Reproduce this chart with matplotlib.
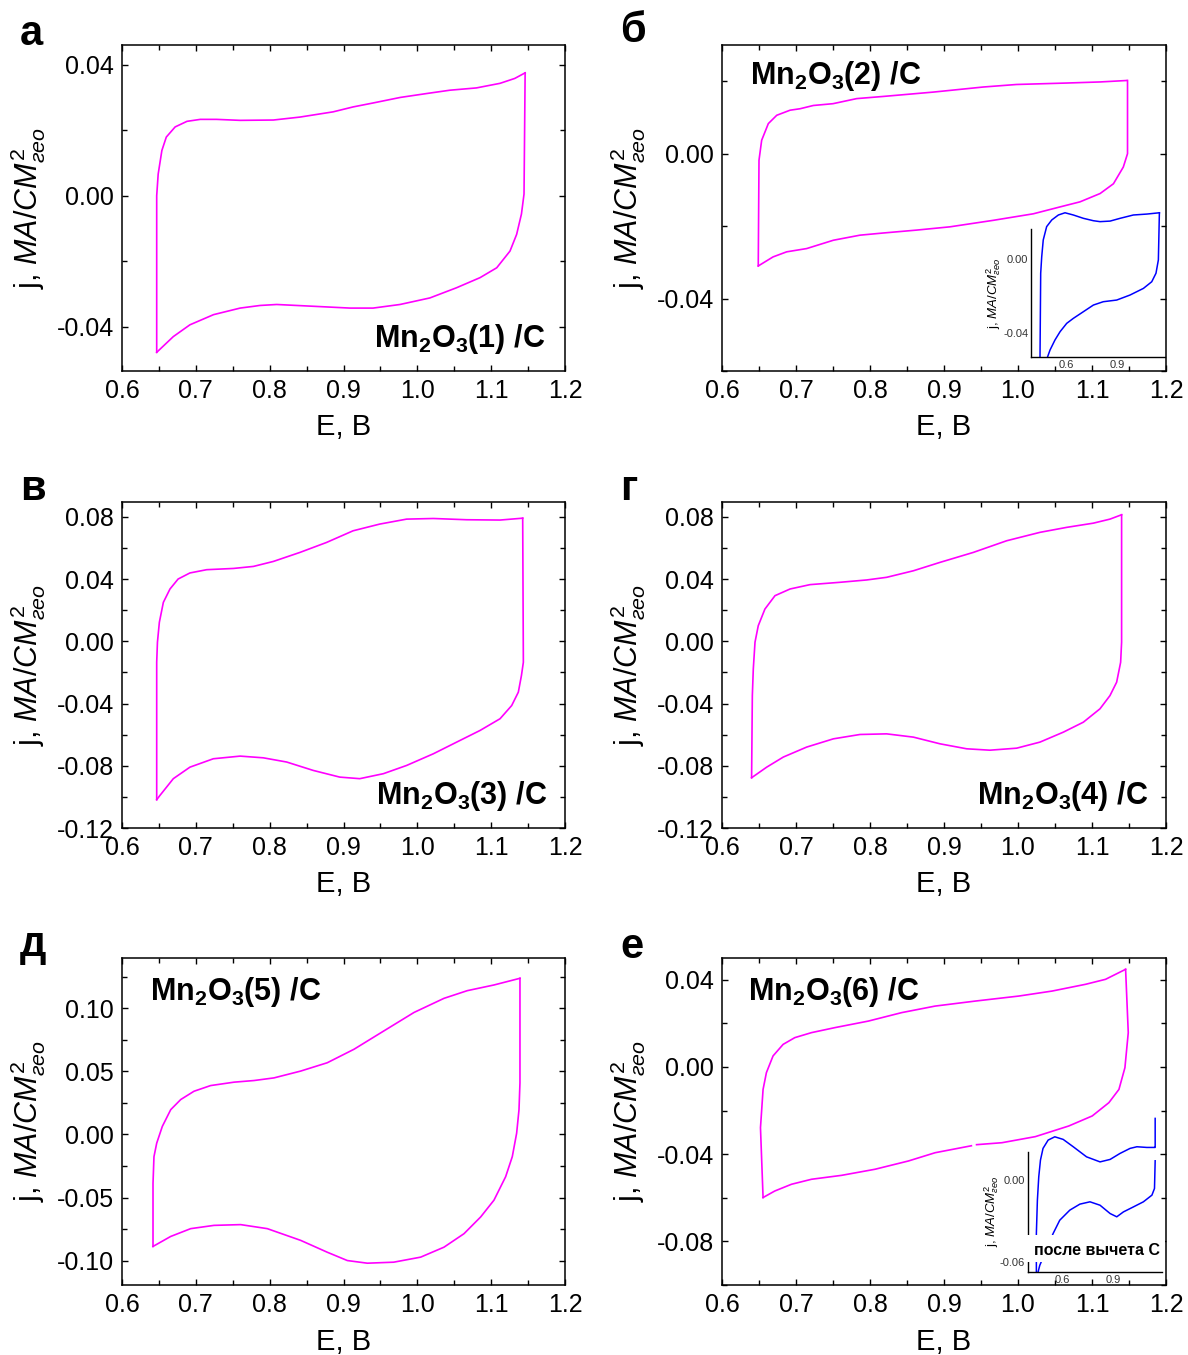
import numpy as np
import matplotlib
matplotlib.use('Agg')
import matplotlib.pyplot as plt
from matplotlib.ticker import MultipleLocator, FormatStrFormatter

plt.rcParams['font.family'] = ['Liberation Sans', 'DejaVu Sans']
plt.rcParams['mathtext.fontset'] = 'custom'
plt.rcParams['mathtext.rm'] = 'Liberation Sans'
plt.rcParams['mathtext.it'] = 'Liberation Sans:italic'
plt.rcParams['mathtext.bf'] = 'Liberation Sans:bold'

# --- data (E in V, j in mA/cm2) ---
# panel a : Mn2O3(1)/C
a_E_up = [0.647, 0.647, 0.649, 0.654, 0.660, 0.672, 0.688, 0.706, 0.728, 0.760, 0.805, 0.841, 0.886, 0.913, 0.940, 0.977, 1.013, 1.044, 1.080, 1.112, 1.132, 1.146]
a_j_up = [-0.0478, 0.0, 0.0066, 0.0138, 0.0179, 0.021, 0.0227, 0.0233, 0.0233, 0.023, 0.0231, 0.024, 0.0256, 0.0271, 0.0283, 0.030, 0.0312, 0.0322, 0.0329, 0.0343, 0.0358, 0.0375]
a_E_dn = [1.146, 1.1445, 1.141, 1.1345, 1.1255, 1.1075, 1.085, 1.053, 1.017, 0.9765, 0.940, 0.909, 0.864, 0.8095, 0.787, 0.760, 0.724, 0.692, 0.6695, 0.647]
a_j_dn = [0.0375, 0.0005, -0.0056, -0.0118, -0.0169, -0.022, -0.025, -0.0281, -0.0312, -0.0332, -0.0343, -0.0343, -0.0338, -0.0332, -0.0335, -0.0343, -0.0363, -0.0394, -0.043, -0.0478]

# panel b : Mn2O3(2)/C
b_E_up = [0.649, 0.650, 0.6536, 0.6626, 0.674, 0.692, 0.7054, 0.7234, 0.750, 0.782, 0.818, 0.8856, 0.953, 0.998, 1.0658, 1.111, 1.147]
b_j_up = [-0.031, -0.0018, 0.0037, 0.0083, 0.0106, 0.012, 0.0124, 0.0133, 0.0138, 0.0152, 0.0158, 0.017, 0.0184, 0.0191, 0.0195, 0.0198, 0.0202]
b_E_dn = [1.148, 1.148, 1.1423, 1.129, 1.111, 1.0838, 1.0568, 1.0207, 0.9667, 0.908, 0.863, 0.818, 0.7865, 0.7505, 0.7144, 0.6874, 0.669, 0.649]
b_j_dn = [0.0202, 0.0, -0.0037, -0.0083, -0.011, -0.0133, -0.0147, -0.0166, -0.0184, -0.0202, -0.0211, -0.0219, -0.0225, -0.0239, -0.0262, -0.0271, -0.0285, -0.031]
# inset of b (after subtracting C)
bi_E_up = [0.447, 0.451, 0.457, 0.466, 0.486, 0.516, 0.555, 0.594, 0.643, 0.702, 0.761, 0.80, 0.859, 0.918, 0.996, 1.075, 1.149]
bi_j_up = [-0.0528, -0.0077, 0.0012, 0.0103, 0.0175, 0.0211, 0.0238, 0.025, 0.0238, 0.022, 0.0207, 0.0202, 0.0205, 0.022, 0.0238, 0.0243, 0.025]
bi_E_dn = [1.149, 1.143, 1.129, 1.104, 1.055, 0.976, 0.898, 0.819, 0.761, 0.702, 0.643, 0.604, 0.565, 0.535, 0.506, 0.492]
bi_j_dn = [0.025, -0.0005, -0.0077, -0.0123, -0.0159, -0.0195, -0.0222, -0.0231, -0.0249, -0.0285, -0.0321, -0.0348, -0.0393, -0.0438, -0.0492, -0.0528]

# panel c : Mn2O3(3)/C
c_E_up = [0.647, 0.647, 0.648, 0.6506, 0.656, 0.665, 0.676, 0.692, 0.7147, 0.751, 0.778, 0.805, 0.841, 0.877, 0.913, 0.949, 0.9855, 1.0217, 1.0668, 1.112, 1.1427]
c_j_up = [-0.1018, -0.0135, -0.0006, 0.0122, 0.025, 0.0336, 0.040, 0.0439, 0.046, 0.0468, 0.0481, 0.0513, 0.0571, 0.0635, 0.071, 0.0753, 0.0785, 0.0789, 0.0781, 0.0779, 0.0791]
c_E_dn = [1.1427, 1.1436, 1.141, 1.1368, 1.1278, 1.112, 1.085, 1.0533, 1.0217, 0.9855, 0.954, 0.922, 0.895, 0.859, 0.823, 0.7914, 0.760, 0.7237, 0.692, 0.6695, 0.6515, 0.647]
c_j_dn = [0.0791, -0.0135, -0.022, -0.0327, -0.0413, -0.0498, -0.0573, -0.0648, -0.0723, -0.0798, -0.0851, -0.0883, -0.0873, -0.083, -0.0776, -0.0749, -0.0738, -0.0755, -0.0809, -0.0883, -0.099, -0.1018]

# panel d : Mn2O3(4)/C
d_E_up = [0.640, 0.641, 0.6423, 0.6446, 0.649, 0.658, 0.6716, 0.692, 0.719, 0.7595, 0.7955, 0.8225, 0.8586, 0.8946, 0.9396, 0.9847, 1.0297, 1.0658, 1.1018, 1.1243, 1.140]
d_j_up = [-0.0877, -0.0349, -0.0178, -0.0006, 0.010, 0.0207, 0.0293, 0.0336, 0.0364, 0.0379, 0.0394, 0.0411, 0.0453, 0.0507, 0.0571, 0.0646, 0.070, 0.0732, 0.0759, 0.0785, 0.0813]
d_E_dn = [1.140, 1.140, 1.1387, 1.1333, 1.1243, 1.1108, 1.0883, 1.0613, 1.0297, 0.9982, 0.962, 0.9306, 0.8946, 0.8586, 0.8225, 0.7865, 0.7505, 0.7144, 0.6829, 0.6604, 0.640]
d_j_dn = [0.0813, -0.0006, -0.0135, -0.0263, -0.0349, -0.0434, -0.052, -0.0584, -0.0648, -0.0687, -0.070, -0.0691, -0.0659, -0.0616, -0.0595, -0.0599, -0.0627, -0.068, -0.0744, -0.0809, -0.0877]

# panel e : Mn2O3(5)/C
e_E_up = [0.642, 0.642, 0.6433, 0.647, 0.6546, 0.666, 0.6795, 0.6975, 0.720, 0.7517, 0.7788, 0.8059, 0.842, 0.878, 0.9142, 0.9548, 0.9955, 1.0361, 1.0677, 1.1038, 1.139]
e_j_up = [-0.0888, -0.0388, -0.0176, -0.0069, 0.0064, 0.0197, 0.0277, 0.0343, 0.0388, 0.0415, 0.0428, 0.0449, 0.0503, 0.0569, 0.0676, 0.0822, 0.0968, 0.108, 0.1141, 0.1186, 0.1239]
e_E_dn = [1.139, 1.139, 1.1377, 1.1345, 1.1286, 1.1196, 1.1038, 1.0858, 1.0632, 1.0361, 1.0045, 0.968, 0.9323, 0.9052, 0.878, 0.842, 0.7968, 0.7607, 0.7246, 0.693, 0.6659, 0.642]
e_j_dn = [0.1239, 0.041, 0.0197, 0.001, -0.0176, -0.0335, -0.0521, -0.0654, -0.0787, -0.0894, -0.0973, -0.1013, -0.1021, -0.100, -0.0934, -0.084, -0.0747, -0.0715, -0.0721, -0.0747, -0.0809, -0.0888]

# panel f : Mn2O3(6)/C  (nan = small gap in the record)
f_E_up = [0.6555, 0.652, 0.6555, 0.660, 0.669, 0.6826, 0.6984, 0.721, 0.7526, 0.7977, 0.8429, 0.888, 0.9422, 1.0009, 1.046, 1.0912, 1.1183, 1.1454]
f_j_up = [-0.060, -0.0279, -0.0103, -0.0026, 0.0051, 0.0104, 0.0135, 0.0158, 0.0181, 0.0211, 0.025, 0.028, 0.0303, 0.0326, 0.0349, 0.038, 0.0403, 0.0449]
f_E_dn = [1.1454, 1.149, 1.1445, 1.1364, 1.1228, 1.1003, 1.0687, 1.0235, 0.9783, 0.944, np.nan, 0.937, 0.888, 0.8519, 0.8068, 0.7616, 0.721, 0.6939, 0.6713, 0.6555]
f_j_dn = [0.0449, 0.0158, -0.0003, -0.0103, -0.0164, -0.0225, -0.0271, -0.032, -0.0348, -0.0357, np.nan, -0.0362, -0.0394, -0.0432, -0.047, -0.0498, -0.0516, -0.0539, -0.057, -0.060]
# inset of f
fi_E_up = [0.449, 0.449, 0.455, 0.463, 0.473, 0.488, 0.518, 0.557, 0.606, 0.665, 0.743, 0.822, 0.881, 0.939, 0.998, 1.038, 1.096, 1.139, 1.145, 1.145]
fi_j_up = [-0.0674, -0.0392, -0.0147, 0.0024, 0.0147, 0.0233, 0.0294, 0.0318, 0.0299, 0.0245, 0.0171, 0.0134, 0.0152, 0.0196, 0.0233, 0.0245, 0.024, 0.024, 0.024, 0.0453]
fi_E_dn = [1.145, 1.141, 1.126, 1.076, 1.018, 0.959, 0.92, 0.881, 0.822, 0.763, 0.704, 0.645, 0.586, 0.547, 0.498, 0.469, 0.459]
fi_j_dn = [0.0142, -0.0061, -0.011, -0.0159, -0.0196, -0.0233, -0.0269, -0.0245, -0.0184, -0.0159, -0.0176, -0.022, -0.0294, -0.0392, -0.0539, -0.0625, -0.0674]

panel_letters = ['а', 'б', 'в', 'г', 'д', 'е']
sample_names = ['1', '2', '3', '4', '5', '6']

ylab = 'j, $\\mathit{МА/СМ}^{2}_{\\mathit{гео}}$'
MAG = '#ff00ff'
W, H = 1188., 1355.


def px_axes(fig, l, t, r, b):
	return fig.add_axes([l/W, 1-b/H, (r-l)/W, (b-t)/H])


def style_main(ax, ylim, ymaj, ymin):
	ax.set_xlim(0.6, 1.2)
	ax.set_ylim(*ylim)
	ax.xaxis.set_major_locator(MultipleLocator(0.1))
	ax.xaxis.set_minor_locator(MultipleLocator(0.05))
	ax.yaxis.set_major_locator(MultipleLocator(ymaj))
	ax.yaxis.set_minor_locator(MultipleLocator(ymin))
	ax.xaxis.set_major_formatter(FormatStrFormatter('%.1f'))
	ax.yaxis.set_major_formatter(FormatStrFormatter('%.2f'))
	ax.tick_params(which='both', direction='in', top=True, right=True, width=1.0, labelsize=18, pad=6)
	ax.tick_params(which='major', length=4)
	ax.tick_params(which='minor', length=3.5)
	for s in ax.spines.values():
		s.set_linewidth(1.1)
	ax.set_xlabel('E, В', fontsize=21)
	ax.set_ylabel(ylab, fontsize=22)
	ax.xaxis.set_label_coords(0.5, -0.13)
	ax.yaxis.set_label_coords(-0.166, 0.5)


def style_inset(ax, xlim, ylim, ytop, yticks):
	ax.set_xlim(*xlim)
	ax.set_ylim(*ylim)
	ax.patch.set_alpha(0)
	ax.spines['top'].set_visible(False)
	ax.spines['right'].set_visible(False)
	ax.spines['left'].set_bounds(ylim[0], ytop)
	for s in ax.spines.values():
		s.set_linewidth(1.0)
	ax.set_xticks([0.6, 0.9])
	ax.set_yticks(yticks)
	ax.xaxis.set_major_formatter(FormatStrFormatter('%.1f'))
	ax.yaxis.set_major_formatter(FormatStrFormatter('%.2f'))
	ax.tick_params(length=0, labelsize=8, labelcolor='#333333', pad=2)


fig = plt.figure(figsize=(11.88, 13.55), dpi=100)

cols = [(122, 565), (722, 1166)]
rows = [(45, 371), (502, 828), (958, 1285)]

data = [(a_E_up, a_j_up, a_E_dn, a_j_dn), (b_E_up, b_j_up, b_E_dn, b_j_dn),
	(c_E_up, c_j_up, c_E_dn, c_j_dn), (d_E_up, d_j_up, d_E_dn, d_j_dn),
	(e_E_up, e_j_up, e_E_dn, e_j_dn), (f_E_up, f_j_up, f_E_dn, f_j_dn)]
ylims = [(-0.0535, 0.046), (-0.06, 0.03), (-0.12, 0.0895), (-0.12, 0.0895), (-0.1194, 0.14), (-0.1002, 0.0501)]
ymaj = [0.04, 0.04, 0.04, 0.04, 0.05, 0.04]
# name placement: x, y (axes fraction), ha
name_pos = [(0.955, 0.074, 'right'), (0.063, 0.880, 'left'), (0.959, 0.074, 'right'),
	(0.959, 0.074, 'right'), (0.063, 0.872, 'left'), (0.059, 0.872, 'left')]
letter_pos = [(20, 45), (620, 42), (20, 500), (620, 500), (20, 956), (620, 958)]

for i in range(6):
	l, r = cols[i % 2]
	t, b = rows[i // 2]
	ax = px_axes(fig, l, t, r, b)
	Eu, ju, Ed, jd = data[i]
	ax.plot(Eu, ju, color=MAG, lw=1.2)
	ax.plot(Ed, jd, color=MAG, lw=1.2)
	style_main(ax, ylims[i], ymaj[i], ymaj[i]/2)
	nx, ny, ha = name_pos[i]
	ax.text(nx, ny, 'Mn$_\\mathbf{2}$O$_\\mathbf{3}$(' + sample_names[i] + ') /C',
		transform=ax.transAxes, ha=ha, va='baseline', fontsize=22, fontweight='bold')
	lx, ly = letter_pos[i]
	fig.text(lx/W, 1-ly/H, panel_letters[i], fontsize=30, fontweight='bold', va='baseline')

# inset in panel b
ins = px_axes(fig, 1031, 210, 1165, 357)
ins.plot(bi_E_up, bi_j_up, color='#0000ff', lw=1.1)
ins.plot(bi_E_dn, bi_j_dn, color='#0000ff', lw=1.1)
style_inset(ins, (0.394, 1.182), (-0.053, 0.0265), 0.0162, [0.0, -0.04])
ins.set_ylabel(ylab, fontsize=9.5)
ins.yaxis.set_label_coords(-0.21, 0.43)

# inset in panel f
ins2 = px_axes(fig, 1028, 1115, 1162, 1272)
ins2.plot(fi_E_up, fi_j_up, color='#0000ff', lw=1.1)
ins2.plot(fi_E_dn, fi_j_dn, color='#0000ff', lw=1.1)
style_inset(ins2, (0.40, 1.185), (-0.0674, 0.0478), 0.0208, [0.0, -0.06])
ins2.set_ylabel(ylab, fontsize=9.5)
ins2.yaxis.set_label_coords(-0.205, 0.387)
ins2.add_patch(plt.Rectangle((-0.02, 0.064), 1.04, 0.17, transform=ins2.transAxes,
	facecolor='white', edgecolor='none', clip_on=False, zorder=5))
ins2.text(0.515, 0.138, 'после вычета С', transform=ins2.transAxes, ha='center', va='center',
	fontsize=11.5, fontweight='bold', zorder=6)

fig.savefig('out.png', dpi=100)
